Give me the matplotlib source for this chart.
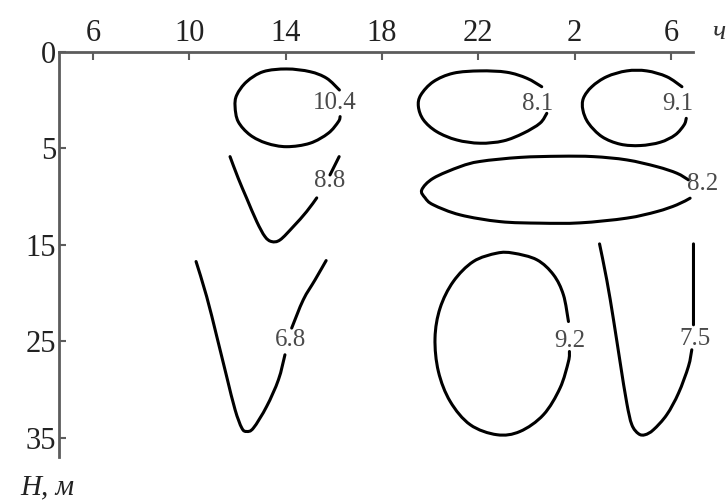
import numpy as np
import matplotlib.pyplot as plt
from matplotlib.path import Path
from matplotlib.patches import PathPatch

plt.rcParams['font.family'] = ['Liberation Serif', 'DejaVu Serif']

# time of day in hours (counted on past midnight as 24+), depth in metres
# np.nan splits an isoline where its label sits
iso_104_h = [16.23, 15.70, 15.01, 14.04, 13.07, 12.38, 11.97, 11.90, 12.03, 12.52,
             13.21, 14.04, 15.01, 15.77, 16.19, 16.26]
iso_104_d = [1.97, 1.36, 1.02, 0.88, 1.02, 1.54, 2.23, 2.83, 3.61, 4.30,
             4.73, 4.91, 4.73, 4.21, 3.61, 3.35]

iso_88_h = [11.69, 12.03, 12.38, 12.80, 13.14, 13.42, 13.77, 14.32, 14.87, 15.29,
            np.nan, 15.84, 16.22]
iso_88_d = [5.85, 8.09, 10.16, 12.59, 14.14, 14.66, 14.48, 13.10, 11.55, 10.13,
            np.nan, 7.75, 5.85]

iso_68_h = [10.28, 10.72, 11.14, 11.55, 11.90, 12.18, 12.38, 12.66, 13.21, 13.70, 13.97,
            np.nan, 14.25, 14.73, 15.22, 15.68]
iso_68_d = [16.73, 20.36, 24.50, 28.65, 32.10, 34.00, 34.35, 34.00, 31.76, 28.99, 26.40,
            np.nan, 23.63, 20.70, 18.63, 16.63]

iso_81_h = [24.63, 24.01, 23.18, 22.07, 20.96, 20.13, 19.61, 19.51, 19.72, 20.27,
            21.10, 22.07, 23.04, 23.87, 24.56, 24.84]
iso_81_d = [1.80, 1.36, 1.05, 0.98, 1.10, 1.54, 2.23, 2.83, 3.52, 4.13,
            4.56, 4.73, 4.61, 4.21, 3.69, 3.18]

iso_91_h = [30.45, 29.82, 28.99, 28.16, 27.33, 26.71, 26.36, 26.34, 26.57, 27.13,
            27.89, 28.72, 29.55, 30.17, 30.54, 30.63]
iso_91_d = [1.80, 1.28, 0.98, 0.98, 1.28, 1.80, 2.40, 3.01, 3.69, 4.39,
            4.78, 4.85, 4.68, 4.30, 3.78, 3.44]

iso_82_h = [30.72, 30.24, 29.41, 28.16, 26.78, 25.39, 23.73, 22.07, 21.24, 20.13, 19.65,
            19.79, 20.13, 21.24, 22.90, 24.56, 26.22, 28.16, 29.41, 30.24, 30.79]
iso_82_d = [8.26, 7.57, 6.89, 6.19, 5.85, 5.81, 5.93, 6.35, 6.89, 8.09, 9.30,
            10.13, 10.85, 11.89, 12.59, 12.75, 12.72, 12.23, 11.55, 10.85, 10.16]

iso_92_h = [25.74, 25.53, 25.12, 24.43, 23.45, 22.77, 21.79, 20.96, 20.41, 20.20,
            20.34, 20.83, 21.66, 22.77, 23.73, 24.70, 25.39, 25.74, 25.78]
iso_92_d = [22.95, 20.18, 18.11, 16.55, 15.86, 15.86, 16.73, 18.80, 21.56, 24.67,
            28.13, 31.24, 33.65, 34.69, 34.35, 32.62, 29.85, 27.09, 26.06]

iso_75_h = [27.03, 27.33, 27.61, 27.89, 28.16, 28.37, 28.65, 28.92, 29.27, 29.82,
            30.31, 30.72, 30.86, np.nan, 30.93, 30.93]
iso_75_d = [14.90, 18.63, 22.77, 27.26, 31.40, 33.65, 34.59, 34.69, 34.17, 32.62,
            30.37, 27.61, 25.88, np.nan, 23.29, 14.90]

isolines = [(iso_104_h, iso_104_d), (iso_88_h, iso_88_d), (iso_68_h, iso_68_d),
            (iso_81_h, iso_81_d), (iso_91_h, iso_91_d), (iso_82_h, iso_82_d),
            (iso_92_h, iso_92_d), (iso_75_h, iso_75_d)]

label_text = ['10.4', '8.8', '6.8', '8.1', '9.1', '8.2', '9.2', '7.5']
label_h = [16.05, 15.82, 14.22, 24.48, 30.29, 31.33, 25.81, 31.00]
label_d = [2.64, 8.37, 24.84, 2.69, 2.69, 8.68, 24.95, 24.74]

hour_ticks = [6, 10, 14, 18, 22, 26, 30]
depth_ticks = [0, 5, 15, 25, 35]

# measured depths are spaced evenly on the plot
depth_pos = [0, 5, 15, 25, 35, 45]
level_pos = [0, 1, 2, 3, 4, 5]


def depth_fwd(d):
    return np.interp(d, depth_pos, level_pos)


def depth_inv(p):
    return np.interp(p, level_pos, depth_pos)


def smooth_path(h, d):
    # Catmull-Rom through the read points, as cubic Bezier pieces
    pts = np.column_stack([np.asarray(h, float), np.asarray(d, float)])
    gaps = np.flatnonzero(np.isnan(pts[:, 0]))
    verts, codes = [], []
    for seg in np.split(pts, gaps):
        seg = seg[~np.isnan(seg[:, 0])]
        p = np.vstack([seg[0], seg, seg[-1]])
        verts.append(seg[0])
        codes.append(Path.MOVETO)
        for i in range(1, len(p) - 2):
            c1 = p[i] + (p[i + 1] - p[i - 1]) / 6
            c2 = p[i + 1] - (p[i + 2] - p[i]) / 6
            verts += [c1, c2, p[i + 1]]
            codes += [Path.CURVE4] * 3
    return Path(np.array(verts), codes)


fig = plt.figure(figsize=(7.28, 5.01), dpi=100)
ax = fig.add_axes([59 / 728, 1 - 457 / 501, 634 / 728, 405 / 501])

ax.set_yscale('function', functions=(depth_fwd, depth_inv))

for h, d in isolines:
    ax.add_patch(PathPatch(smooth_path(h, d), fill=False, ec='black', lw=2.2,
                           capstyle='round', joinstyle='round', clip_on=False))

for txt, h, d in zip(label_text, label_h, label_d):
    ax.text(h, d, txt, fontsize=18, color='#4a4a4a', ha='center', va='center',
            clip_on=False)

ax.set_xlim(4.59, 30.91)
ax.set_ylim(37, 0)

ax.xaxis.tick_top()
ax.set_xticks(hour_ticks)
ax.set_xticklabels([str(h % 24) for h in hour_ticks])
ax.set_yticks(depth_ticks)
ax.set_yticklabels([str(d) for d in depth_ticks])
ax.yaxis.set_minor_locator(plt.NullLocator())

for side in ['bottom', 'right']:
    ax.spines[side].set_visible(False)
for side in ['top', 'left']:
    ax.spines[side].set_color('#5c5c5c')
    ax.spines[side].set_linewidth(2.0)

ax.tick_params(axis='x', direction='in', length=6, width=1.5, color='#5c5c5c',
               labelsize=22, pad=3, labelcolor='#222222')
ax.tick_params(axis='y', direction='in', length=5, width=1.5, color='#5c5c5c',
               labelsize=22, pad=2, labelcolor='#222222')

ax.text(1.04, 1.047, 'ч', transform=ax.transAxes, fontsize=20, style='italic',
        ha='center', va='center', color='#333333')
ax.text(-0.019, -0.074, 'H, м', transform=ax.transAxes, fontsize=21, style='italic',
        ha='center', va='center', color='#222222')

fig.savefig('out.png', dpi=100)
